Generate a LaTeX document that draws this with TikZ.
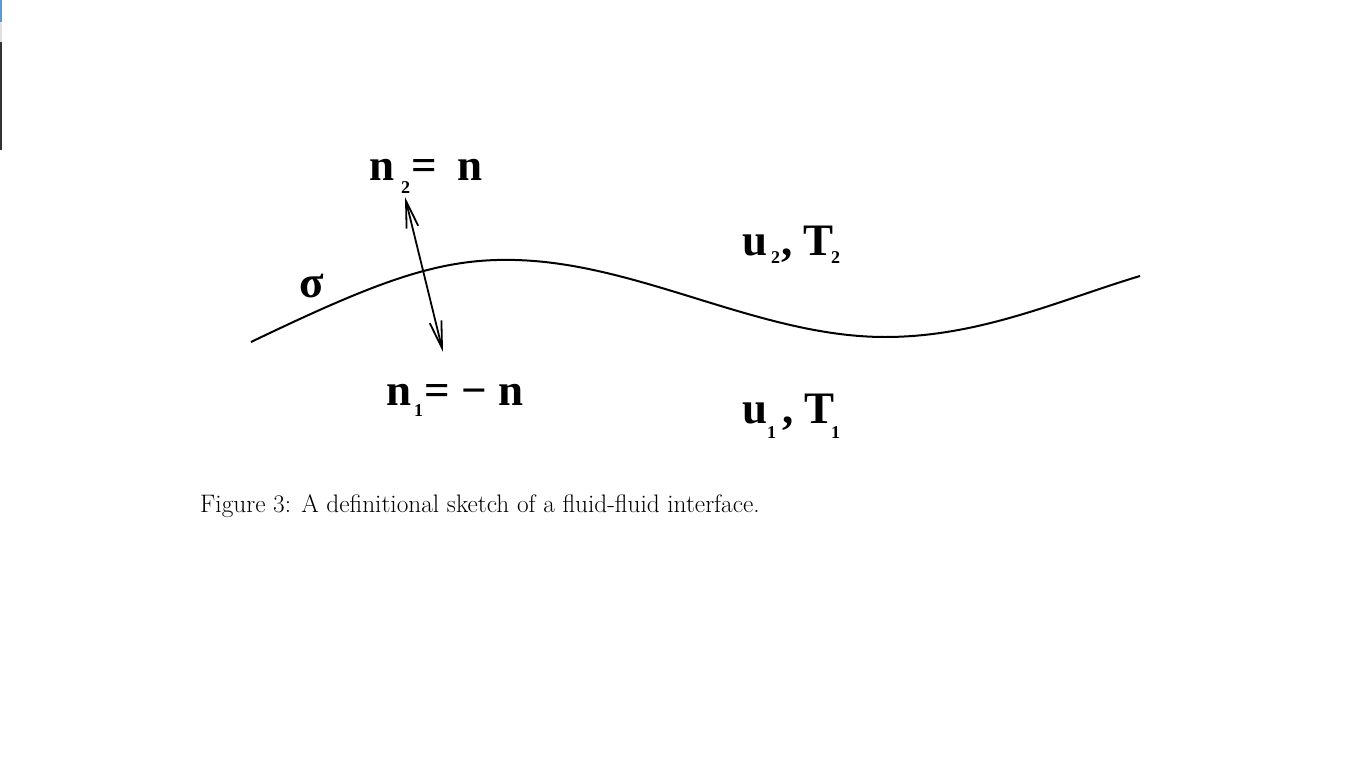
\documentclass[tikz,border=0pt]{standalone}
\usepackage{fontspec}
\usepackage{tikz}
\usetikzlibrary{arrows.meta}
\newfontfamily\lblfont{Liberation Serif}
\definecolor{edge_blue}{HTML}{5B9BD5}
\definecolor{edge_grey}{HTML}{333333}

\begin{document}
\begin{tikzpicture}[x=1pt, y=-1pt,
	lbl/.style={inner sep=0pt, anchor=base west, font=\lblfont\bfseries\fontsize{45}{50}\selectfont},
	sublbl/.style={inner sep=0pt, anchor=base west, font=\lblfont\bfseries\fontsize{18}{20}\selectfont},
	iface/.style={line width=2pt, line join=round},
	normal/.style={line width=1.8pt, {Straight Barb[length=27pt,width=12pt,line width=1.8pt]}-{Straight Barb[length=27pt,width=12pt,line width=1.8pt]}}]
	\useasboundingbox (0, 0) rectangle (1366, 779);
	\fill[white] (0, 0) rectangle (1366, 779);
	% bits of the window edge
	\fill[edge_blue] (0, 0) rectangle (2, 22);
	\fill[black!12] (0, 22) rectangle (2, 42);
	\fill[edge_grey] (0, 42) rectangle (2, 150);
	% the interface
	\draw[iface] (251, 342) .. controls (380, 280) and (440, 258) .. (515, 260)
		.. controls (640, 263) and (760, 337) .. (885, 337)
		.. controls (980, 337) and (1060, 300) .. (1140, 276);
	\node[lbl] (sigma) at (299, 297) {σ};
	% normals
	\coordinate (ntop) at (405, 197);
	\coordinate (nbot) at (443, 352);
	\draw[normal] (ntop) -- (nbot);
	\node[lbl] (n2) at (369, 180) {n};
	\node[sublbl] (n2sub) at (401, 193) {2};
	\node[lbl] (n2eq) at (411, 180) {=\hspace{21pt}n};
	\node[lbl] (n1) at (386, 405) {n};
	\node[sublbl] (n1sub) at (414, 416) {1};
	\node[lbl] (n1eq) at (424, 405) {= − n};
	% the two fluids
	\node[lbl] (u2) at (742, 255) {u};
	\node[sublbl] (u2sub) at (771, 263) {2};
	\node[lbl] (T2) at (781, 255) {, T};
	\node[sublbl] (T2sub) at ([xshift=-3pt, yshift=-8pt]T2.base east) {2};
	\node[lbl] (u1) at (742, 423) {u};
	\node[sublbl] (u1sub) at (767, 438) {1};
	\node[lbl] (T1) at (782, 423) {, T};
	\node[sublbl] (T1sub) at ([xshift=-4pt, yshift=-15pt]T1.base east) {1};
	% caption
	\node[inner sep=0pt, anchor=base west, font=\fontsize{25.3}{30}\selectfont] (caption) at (200, 512) {Figure 3: A definitional sketch of a fluid-fluid interface.};
\end{tikzpicture}
\end{document}
